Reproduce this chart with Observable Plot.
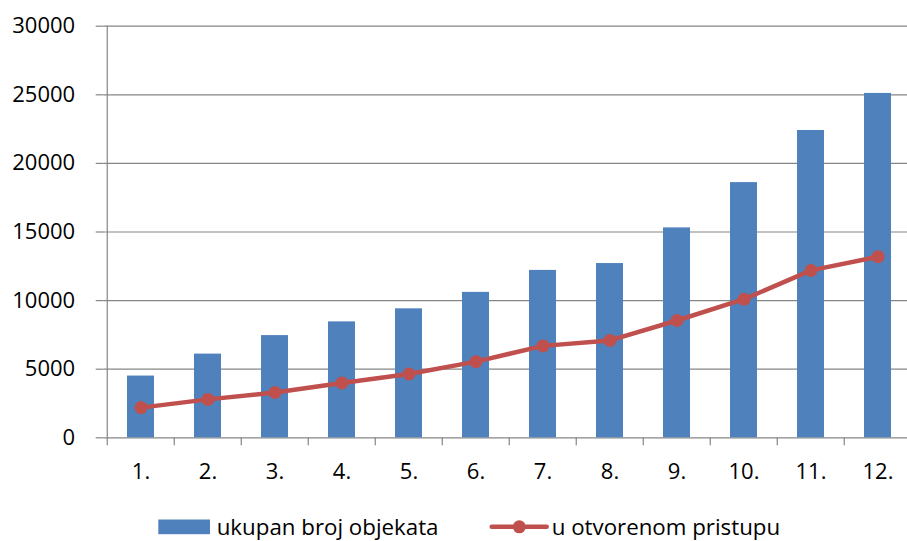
<!DOCTYPE html>
<html>
<head>
<meta charset="utf-8">
<script src="https://cdn.jsdelivr.net/npm/d3@7"></script>
<script src="https://cdn.jsdelivr.net/npm/@observablehq/plot@0.6"></script>
<style>
  html, body { margin: 0; padding: 0; background: #fff; }
  #chart svg { display: block; }
  #legend { display: block; font-family: "Open Sans", sans-serif; overflow: visible; }
</style>
</head>
<body>
<div id="chart"></div>
<script>
// ---- data ----
const categories = ["1.", "2.", "3.", "4.", "5.", "6.", "7.", "8.", "9.", "10.", "11.", "12."];
const totalObjects = [4500, 6100, 7450, 8450, 9400, 10600, 12200, 12700, 15300, 18600, 22400, 25100];
const openAccess = [2200, 2800, 3300, 4000, 4650, 5550, 6700, 7100, 8550, 10100, 12200, 13200];
const yTicks = [0, 5000, 10000, 15000, 20000, 25000, 30000];
const seriesNames = ["ukupan broj objekata", "u otvorenom pristupu"];

const rows = categories.map((c, i) => ({cat: c, total: totalObjects[i], open: openAccess[i]}));

// ---- layout ----
const W = 907, H = 501;
const mLeft = 103.7, mTop = 25.7, yZero = 437.3;
const step = 67.5;
const barColor = "#4F81BD", lineColor = "#C0504D", axisColor = "#868686";

const chart = Plot.plot({
  width: W,
  height: H,
  marginLeft: mLeft,
  marginRight: 0,
  marginTop: mTop,
  marginBottom: H - yZero,
  style: {fontFamily: '"Open Sans", sans-serif', fontSize: "22px", color: "#000", background: "#fff", overflow: "visible"},
  x: {domain: categories, range: [mLeft, mLeft + step * categories.length], paddingInner: 0.6, paddingOuter: 0.3, axis: null},
  y: {domain: [0, 30000], axis: null},
  marks: [
    Plot.gridY(yTicks, {stroke: axisColor, strokeOpacity: 1, strokeWidth: 1.2}),
    Plot.axisY(yTicks, {tickSize: 8, tickPadding: 21, stroke: axisColor, strokeWidth: 1.2, fill: "#000", tickFormat: d => String(d), label: null}),
    Plot.ruleX([categories[0]], {dx: -step / 2, stroke: axisColor, strokeWidth: 1.2}),
    Plot.axisX({tickSize: 8, tickFormat: () => "", stroke: axisColor, strokeWidth: 1.2, dx: -step / 2, label: null}),
    Plot.axisX({tickSize: 0, tickPadding: 25.7, fill: "#000", label: null}),
    Plot.barY(rows, {x: "cat", y: "total", fill: barColor, inset: 0}),
    Plot.lineY(rows, {x: "cat", y: "open", stroke: lineColor, strokeWidth: 4.5, strokeLinejoin: "round"}),
    Plot.dot(rows, {x: "cat", y: "open", r: 6.5, fill: lineColor, stroke: "none"})
  ]
});
document.getElementById("chart").appendChild(chart);

// ---- legend ----
const ns = "http://www.w3.org/2000/svg";
const lg = document.createElementNS(ns, "svg");
lg.setAttribute("id", "legend");
lg.setAttribute("width", W);
lg.setAttribute("height", 40);
function el(tag, attrs, text) {
  const e = document.createElementNS(ns, tag);
  for (const k in attrs) e.setAttribute(k, attrs[k]);
  if (text != null) e.textContent = text;
  lg.appendChild(e);
  return e;
}
const off = 505 - H - 1.5;
el("rect", {x: 158.3, y: 16 + off, width: 51.7, height: 14.7, fill: barColor});
el("text", {x: 216.7, y: 31.7 + off, "font-size": 22.3, fill: "#000"}, seriesNames[0]);
el("line", {x1: 491.7, x2: 546.7, y1: 23.3 + off, y2: 23.3 + off, stroke: lineColor, "stroke-width": 4.5, "stroke-linecap": "round"});
el("circle", {cx: 519.3, cy: 23.3 + off, r: 6.5, fill: lineColor});
el("text", {x: 551.7, y: 31.7 + off, "font-size": 22.3, fill: "#000"}, seriesNames[1]);
document.getElementById("chart").appendChild(lg);
</script>
</body>
</html>
